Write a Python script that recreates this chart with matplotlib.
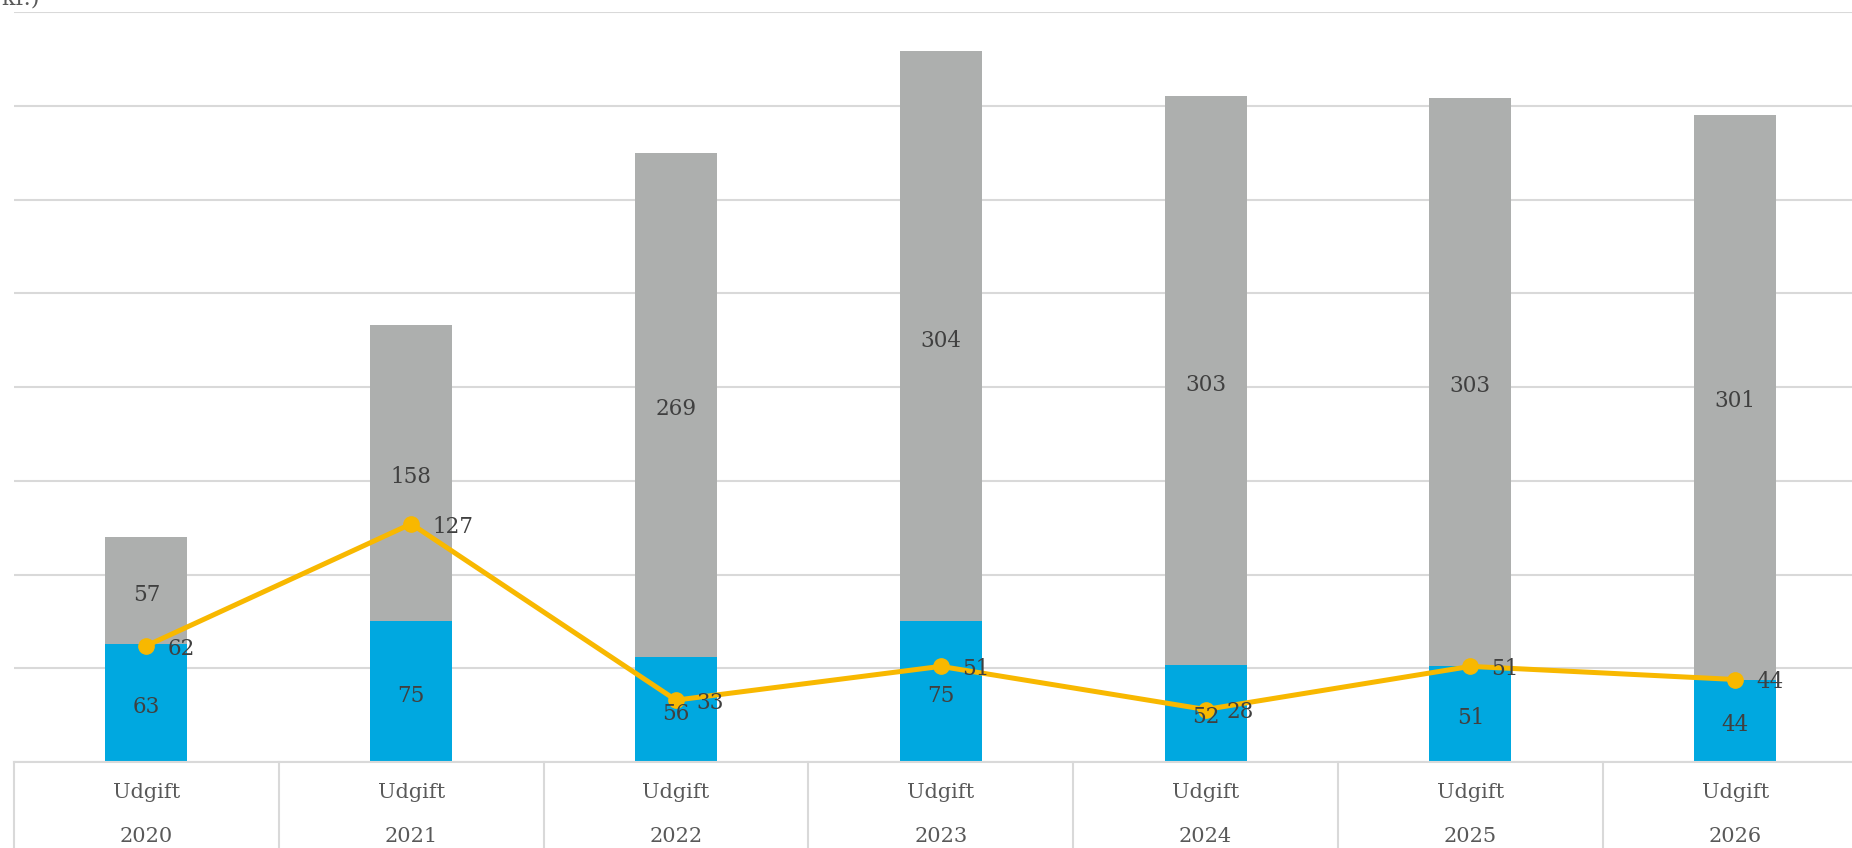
import matplotlib
matplotlib.use("Agg")
import matplotlib.pyplot as plt
import matplotlib.transforms as mtransforms

years = ["2020", "2021", "2022", "2023", "2024", "2025", "2026"]
category = "Udgift"
blue_vals = [63, 75, 56, 75, 52, 51, 44]
gray_vals = [57, 158, 269, 304, 303, 303, 301]
line_vals = [62, 127, 33, 51, 28, 51, 44]
y_title = "(mio. kr.)"

BLUE = "#00A8E0"
GRAY = "#ADAFAE"
YELLOW = "#F8B800"
GRID = "#D9D9D9"
LABEL = "#404040"
AXLAB = "#595959"
FONT = "DejaVu Serif"

W, H = 1852, 848
fig = plt.figure(figsize=(W / 100, H / 100), dpi=100)
left_px, cat_w = 14, 264.8
bottom_px, top_px = 762, 12
ax = fig.add_axes([left_px / W, (H - bottom_px) / H, 7 * cat_w / W, (bottom_px - top_px) / H])

x = list(range(len(years)))
bw = 0.31
ax.bar(x, blue_vals, width=bw, color=BLUE, zorder=2)
ax.bar(x, gray_vals, width=bw, bottom=blue_vals, color=GRAY, zorder=2)
ax.plot(x, line_vals, color=YELLOW, lw=3.6, marker="o", ms=11, zorder=4,
        solid_capstyle="round")

lab_kw = dict(textcoords="offset points", fontsize=15.5, color=LABEL,
              family=FONT, zorder=5)
for i in x:
    ax.annotate(str(blue_vals[i]), (i, blue_vals[i] / 2), xytext=(0, -3),
                ha="center", va="center", **lab_kw)
    ax.annotate(str(gray_vals[i]), (i, blue_vals[i] + gray_vals[i] / 2),
                xytext=(0, -3), ha="center", va="center", **lab_kw)
    ax.annotate(str(line_vals[i]), (i, line_vals[i]), xytext=(15, -2),
                ha="left", va="center", **lab_kw)

ax.set_xlim(-0.5, 6.5)
ax.set_ylim(0, 400)
ax.set_yticks(range(0, 401, 50))
ax.yaxis.grid(True, color=GRID, lw=1.5, zorder=0)
ax.set_axisbelow(True)
ax.tick_params(left=False, bottom=False, labelleft=False, labelbottom=False)
for s in ["left", "right", "top"]:
    ax.spines[s].set_visible(False)
ax.spines["bottom"].set_color(GRID)
ax.spines["bottom"].set_linewidth(1.5)

trans = mtransforms.blended_transform_factory(ax.transData, fig.transFigure)
for i in x:
    ax.text(i, (H - 792) / H, category, transform=trans, ha="center", va="center",
            fontsize=15, color=AXLAB, family=FONT)
    ax.text(i, (H - 837) / H, years[i], transform=trans, ha="center", va="center",
            fontsize=15, color=AXLAB, family=FONT)
for b in [i - 0.5 for i in range(8)]:
    ax.plot([b, b], [(H - bottom_px) / H, 0], transform=trans, color=GRID,
            lw=1.5, clip_on=False)

fig.text(40 / W, (H - 5) / H, y_title, ha="right", va="baseline",
         fontsize=16, color=AXLAB, family=FONT)

fig.savefig("out.png", dpi=100, facecolor="white")
